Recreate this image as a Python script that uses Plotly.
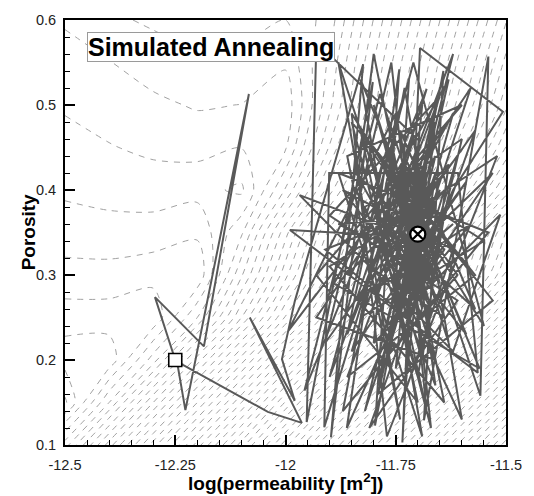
import plotly.graph_objects as go

# ---------------- background misfit surface ----------------
perm_grid = [-12.5, -12.4, -12.3, -12.2, -12.1, -12.0, -11.9, -11.8, -11.7, -11.6, -11.5]
poro_grid = [0.10, 0.15, 0.20, 0.25, 0.30, 0.35, 0.40, 0.45, 0.50, 0.55, 0.60]
misfit_grid = [
    [3.5, -2.5, -8.5, -14.5, -20.5, -26.63, -32.63, -38.63, -44.63, -50.63, -56.63],
    [8.2, 3.0, -3.0, -9.0, -15.0, -21.13, -27.13, -33.13, -39.13, -45.13, -51.13],
    [6.63, 6.7, 2.5, -3.5, -9.5, -15.63, -21.63, -27.63, -33.63, -39.63, -45.63],
    [5.5, 5.5, 5.8, 2.0, -4.0, -10.13, -16.13, -22.13, -28.13, -34.13, -40.13],
    [4.36, 4.37, 4.64, 4.85, -0.85, -6.67, -12.37, -18.06, -23.76, -29.46, -35.15],
    [3.5, 3.38, 3.45, 3.81, 1.19, -4.63, -10.33, -16.03, -21.72, -27.42, -33.12],
    [2.83, 2.65, 2.52, 2.66, 3.2, -1.11, -6.57, -12.02, -17.48, -22.93, -28.39],
    [2.36, 2.06, 1.79, 1.67, 1.98, 1.12, -4.11, -9.34, -14.58, -19.8, -25.04],
    [1.88, 1.54, 1.21, 0.9, 1.02, 1.64, -2.74, -7.74, -12.74, -17.74, -22.74],
    [1.41, 1.04, 0.55, 0.21, 0.3, 0.86, -2.19, -6.98, -11.77, -16.55, -21.3],
    [0.88, 0.2, -0.17, -0.5, -0.4, 0.0, -1.44, -6.05, -10.67, -15.28, -19.9],
]

# ---------------- simulated annealing path ----------------
path_perm = [
    -12.250, -12.296, -12.185, -12.083, -12.227, -12.246, -12.040, -11.963, -12.081, -11.979,
    -12.008, -11.979,
    -11.824, -11.897, -11.802, -11.952, -11.930, -11.697, -11.735, -11.695, -11.507, -11.620,
    -11.861, -11.742, -11.797, -11.642, -11.686, -11.540, -11.558, -11.786, -11.957, -11.680,
    -11.912, -11.901, -11.609, -11.564, -11.990, -11.720, -11.968, -11.620, -11.513, -11.800,
    -11.750, -11.994, -11.660, -11.860, -11.570, -11.830, -11.700, -11.930, -11.600,
    -11.86, -11.74, -11.88, -11.66, -11.93, -11.58, -11.82, -11.62, -11.90, -11.71,
    -11.55, -11.85, -11.77, -11.52, -11.90, -11.64, -11.80, -11.84, -11.60, -11.73,
    -11.87, -11.54, -11.88, -11.69, -11.83, -11.56, -11.89, -11.63, -11.79, -11.53,
    -11.85, -11.67, -11.76, -11.91, -11.57, -11.81, -11.61, -11.90, -11.65, -11.86,
    -11.78, -11.64, -11.81, -11.61, -11.75, -11.69, -11.84, -11.58, -11.77, -11.66,
    -11.73, -11.62, -11.87, -11.68, -11.80, -11.63, -11.71, -11.85, -11.59, -11.76,
    -11.65, -11.79, -11.67, -11.91, -11.70, -11.60, -11.82, -11.66, -11.74, -11.57,
    -11.78, -11.69, -11.63, -11.86, -11.72, -11.76, -11.61, -11.81, -11.68, -11.73,
    -11.55, -11.83, -11.66, -11.74, -11.62, -11.79, -11.70, -11.64, -11.88, -11.71,
    -11.59, -11.77, -11.67, -11.84, -11.69, -11.53, -11.75, -11.65, -11.80, -11.62,
    -11.74, -11.67, -11.77, -11.70, -11.66, -11.75, -11.68, -11.73, -11.71, -11.64,
    -11.76, -11.69, -11.72, -11.67, -11.78, -11.70, -11.65, -11.73, -11.68, -11.75,
    -11.72, -11.67, -11.75, -11.68, -11.73, -11.66, -11.77, -11.70, -11.71, -11.65,
    -11.74, -11.69, -11.76, -11.68, -11.72, -11.64, -11.73, -11.70, -11.78, -11.67,
    -11.71, -11.69, -11.74, -11.66, -11.72, -11.68, -11.75, -11.70, -11.65, -11.73,
    -11.71, -11.69, -11.76, -11.67, -11.72, -11.70, -11.74, -11.68, -11.71, -11.66,
    -11.73, -11.70, -11.72, -11.69, -11.75, -11.68, -11.71, -11.70, -11.73, -11.69,
    -11.71, -11.70, -11.72, -11.69, -11.71, -11.70,
]
path_poro = [
    0.200, 0.274, 0.216, 0.513, 0.141, 0.198, 0.139, 0.126, 0.250, 0.152,
    0.201, 0.269,
    0.548, 0.109, 0.527, 0.127, 0.574, 0.458, 0.103, 0.567, 0.492, 0.400,
    0.120, 0.542, 0.123, 0.540, 0.129, 0.557, 0.158, 0.513, 0.164, 0.519,
    0.121, 0.420, 0.420, 0.185, 0.353, 0.345, 0.394, 0.210, 0.371, 0.220,
    0.490, 0.234, 0.460, 0.180, 0.300, 0.470, 0.150, 0.300, 0.500,
    0.44, 0.13, 0.55, 0.20, 0.25, 0.52, 0.14, 0.56, 0.18, 0.55,
    0.24, 0.49, 0.11, 0.44, 0.31, 0.15, 0.56, 0.40, 0.13, 0.52,
    0.14, 0.35, 0.42, 0.11, 0.53, 0.19, 0.29, 0.53, 0.16, 0.27,
    0.48, 0.12, 0.55, 0.22, 0.47, 0.12, 0.27, 0.37, 0.51, 0.23,
    0.43, 0.25, 0.31, 0.44, 0.19, 0.50, 0.27, 0.36, 0.24, 0.48,
    0.16, 0.33, 0.40, 0.27, 0.50, 0.22, 0.46, 0.21, 0.41, 0.29,
    0.52, 0.17, 0.38, 0.33, 0.24, 0.46, 0.38, 0.17, 0.47, 0.26,
    0.36, 0.20, 0.43, 0.30, 0.53, 0.21, 0.30, 0.45, 0.14, 0.40,
    0.34, 0.25, 0.44, 0.27, 0.49, 0.33, 0.18, 0.37, 0.36, 0.31,
    0.23, 0.45, 0.26, 0.42, 0.34, 0.42, 0.25, 0.40, 0.28, 0.36,
    0.31, 0.39, 0.36, 0.27, 0.42, 0.29, 0.38, 0.44, 0.28, 0.33,
    0.40, 0.26, 0.43, 0.30, 0.34, 0.39, 0.29, 0.35, 0.44, 0.32,
    0.41, 0.29, 0.36, 0.43, 0.28, 0.38, 0.32, 0.42, 0.27, 0.34,
    0.39, 0.30, 0.43, 0.33, 0.26, 0.40, 0.34, 0.29, 0.38, 0.36,
    0.44, 0.31, 0.30, 0.41, 0.35, 0.27, 0.40, 0.33, 0.37, 0.43,
    0.30, 0.39, 0.34, 0.32, 0.38, 0.28, 0.36, 0.41, 0.33, 0.35,
    0.31, 0.40, 0.29, 0.37, 0.33, 0.35, 0.42, 0.31, 0.37, 0.33,
    0.36, 0.34, 0.33, 0.36, 0.35, 0.348,
]

start_point = (-12.25, 0.20)
end_point = (-11.70, 0.348)

x_major_ticks = [-12.5, -12.25, -12.0, -11.75, -11.5]
x_major_labels = ["-12.5", "-12.25", "-12", "-11.75", "-11.5"]
y_major_ticks = [0.1, 0.2, 0.3, 0.4, 0.5, 0.6]
y_major_labels = ["0.1", "0.2", "0.3", "0.4", "0.5", "0.6"]

FONT = "Liberation Sans, Arial, Helvetica, sans-serif"

fig = go.Figure()

fig.add_trace(go.Contour(
    x=perm_grid, y=poro_grid, z=misfit_grid,
    contours=dict(coloring="none", start=-60, end=20, size=1),
    line=dict(color="#a2a2a2", width=1, dash="6px,6px", smoothing=0.8),
    showscale=False, hoverinfo="skip",
))

fig.add_trace(go.Scatter(
    x=path_perm, y=path_poro, mode="lines",
    line=dict(color="#595959", width=2),
    hoverinfo="skip", showlegend=False,
))

fig.add_trace(go.Scatter(
    x=[start_point[0]], y=[start_point[1]], mode="markers",
    marker=dict(symbol="square", size=13, color="white",
                line=dict(color="black", width=1.6)),
    showlegend=False, hoverinfo="skip",
))
fig.add_trace(go.Scatter(
    x=[end_point[0]], y=[end_point[1]], mode="markers",
    marker=dict(symbol="circle-x", size=15, color="white",
                line=dict(color="black", width=2.2)),
    showlegend=False, hoverinfo="skip",
))

axis_common = dict(
    showgrid=False, zeroline=False,
    showline=True, linecolor="black", linewidth=2, mirror=True,
    ticks="inside", ticklen=10, tickwidth=2, tickcolor="black",
    tickfont=dict(family=FONT, size=14.5, color="#222"),
)

fig.update_xaxes(
    range=[-12.5, -11.5], tickmode="array", tickvals=x_major_ticks, ticktext=x_major_labels,
    minor=dict(tick0=-12.5, dtick=0.05, ticks="inside", ticklen=5, tickwidth=1, tickcolor="black"),
    ticklabelstandoff=6,
    **axis_common,
)
fig.update_yaxes(
    range=[0.1, 0.6], tickmode="array", tickvals=y_major_ticks, ticktext=y_major_labels,
    minor=dict(tick0=0.1, dtick=0.02, ticks="inside", ticklen=5, tickwidth=1, tickcolor="black"),
    ticklabelstandoff=4,
    **axis_common,
)

fig.update_layout(
    width=534, height=496,
    margin=dict(l=65, r=17, t=15, b=51),
    paper_bgcolor="white", plot_bgcolor="white",
    showlegend=False,
    font=dict(family=FONT),
    annotations=[
        dict(text="<b>Simulated Annealing</b>", xref="paper", yref="paper",
             x=0.051, y=0.972, xanchor="left", yanchor="top", showarrow=False,
             font=dict(family=FONT, size=25, color="black"),
             bgcolor="white", bordercolor="#9a9a9a", borderwidth=1, borderpad=0),
        dict(text="<b>log(permeability [m<sup>2</sup>])</b>", xref="paper", yref="paper",
             x=0.5, y=-0.086, xanchor="center", yanchor="middle", showarrow=False,
             font=dict(family=FONT, size=19, color="black")),
        dict(text="<b>Porosity</b>", xref="paper", yref="paper",
             x=-0.082, y=0.5, xanchor="center", yanchor="middle", showarrow=False,
             textangle=-90, font=dict(family=FONT, size=19, color="black")),
    ],
)

fig.write_html("out.html")
